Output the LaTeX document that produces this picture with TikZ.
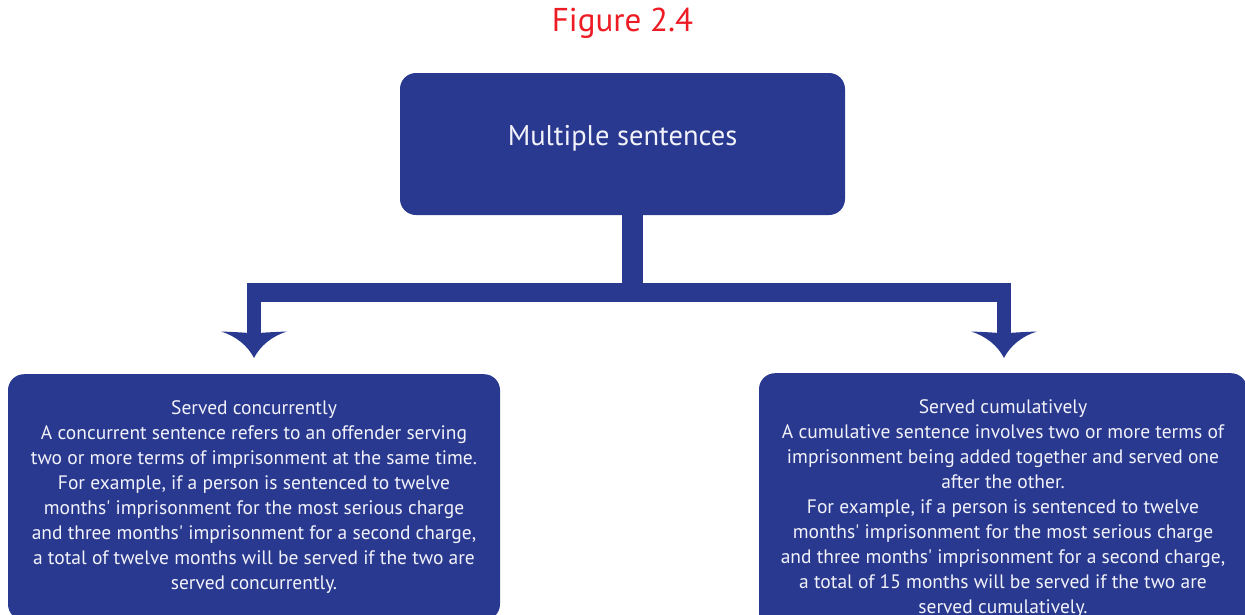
\documentclass[tikz,border=0pt]{standalone}
\usepackage{fontspec}
\setmainfont{PT Sans}
\usetikzlibrary{calc}
\definecolor{navy}{RGB}{41,57,143}
\definecolor{paper}{RGB}{242,242,250}
\definecolor{figred}{RGB}{237,28,36}
\tikzset{
    bluebox/.style={fill=navy,text=paper,rounded corners=16pt,align=center,inner sep=0pt},
    bodytext/.style={font=\fontsize{19.5}{25}\selectfont},
    trunk/.style={draw=navy,line width=21.5pt},
    bar/.style={draw=navy,line width=19pt},
    leg/.style={draw=navy,line width=13.5pt},
    droophead/.pic={
        \fill[navy] (0,0) .. controls (-6,-12) and (-18,-22) .. (-33,-26.5)
            .. controls (-20,-26) and (-9,-25.5) .. (0,-24.5)
            .. controls (9,-25.5) and (20,-26) .. (33,-26.5)
            .. controls (18,-22) and (6,-12) .. (0,0) -- cycle;
    }
}
\begin{document}
\begin{tikzpicture}[x=1pt,y=-1pt]
        \useasboundingbox (0,0) rectangle (1245,614);
        \clip (0,0) rectangle (1245,614);
        %% Title
        \node[text=figred,font=\fontsize{33}{40}\selectfont] (fig) at (622.5,23) {Figure 2.4};
        %% Boxes
        \node[bluebox,minimum width=445pt,minimum height=142pt,text depth=17pt,
            font=\fontsize{28.5}{34}\selectfont] (multi) at (622.5,144) {Multiple sentences};
        \node[bluebox,bodytext,anchor=north,minimum width=492pt,minimum height=246pt] (conc) at (254,374)
            {Served concurrently\\
             A concurrent sentence refers to an offender serving\\
             two or more terms of imprisonment at the same time.\\
             For example, if a person is sentenced to twelve\\
             months\textquotesingle{} imprisonment for the most serious charge\\
             and three months\textquotesingle{} imprisonment for a second charge,\\
             a total of twelve months will be served if the two are\\
             served concurrently.};
        \node[bluebox,bodytext,anchor=north,minimum width=488pt,minimum height=271pt] (cumu) at (1003,373)
            {Served cumulatively\\
             A cumulative sentence involves two or more terms of\\
             imprisonment being added together and served one\\
             after the other.\\
             For example, if a person is sentenced to twelve\\
             months\textquotesingle{} imprisonment for the most serious charge\\
             and three months\textquotesingle{} imprisonment for a second charge,\\
             a total of 15 months will be served if the two are\\
             served cumulatively.};
        %% Connectors
        \coordinate (split) at ($(multi.south)+(10,77.5)$);
        \coordinate (tipL) at ($(conc.north)+(0,-16)$);
        \coordinate (tipR) at ($(cumu.north)+(1,-15)$);
        \draw[trunk] ($(multi.south)+(10,-1)$) to (split);
        \draw[bar,shorten <=-6.75pt,shorten >=-6.75pt] (tipL |- split) to (tipR |- split);
        \draw[leg] ($(tipL |- split)+(0,-9.5)$) to ($(tipL)+(0,-22)$);
        \draw[leg] ($(tipR |- split)+(0,-9.5)$) to ($(tipR)+(0,-22)$);
        \pic at (tipL) {droophead};
        \pic at (tipR) {droophead};
    \end{tikzpicture}
\end{document}
